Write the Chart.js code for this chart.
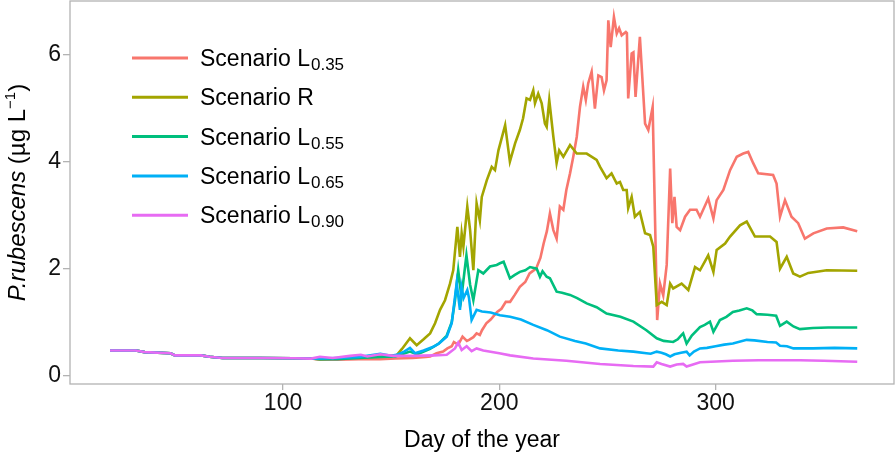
<!DOCTYPE html>
<html>
<head>
<meta charset="utf-8">
<script src="https://cdn.jsdelivr.net/npm/chart.js@4"></script>
<style>
  html, body { margin: 0; padding: 0; background: #fff; }
  #wrap { width: 896px; height: 453px; }
</style>
</head>
<body>
<div id="wrap"><canvas id="myChart" width="896" height="453"></canvas></div>
<script>
// values: [day, P. rubescens]
const scenL035 = [
  [20,0.47],[32,0.47],[36,0.44],[48,0.42],[50,0.38],[62,0.38],[66,0.355],[72,0.33],[90,0.33],[105,0.325],
  [113,0.32],[117,0.30],[125,0.30],[135,0.31],[145,0.31],[152,0.32],[160,0.33],[166,0.35],[168,0.36],
  [171,0.42],[174,0.45],[176,0.51],[178,0.55],[179,0.63],[181,0.58],[183,0.73],[185,0.65],[186,0.67],
  [188,0.72],[189.5,0.79],[191,0.76],[192,0.85],[194,0.98],[196,1.05],[199,1.19],[201,1.25],[203,1.38],
  [205,1.38],[207,1.5],[209.5,1.66],[212,1.75],[214,1.91],[217,2.0],[219,2.2],[220.5,2.47],[222,2.7],
  [223.4,3.03],[225,2.72],[226.5,2.56],[228,3.16],[229.6,3.1],[231,3.47],[232.7,3.78],[234.2,4.09],
  [235.8,4.46],[237.3,5.02],[238.8,5.4],[240,5.15],[241.1,5.46],[242.7,5.68],[244.2,4.99],[245.8,5.61],
  [247.3,5.58],[248.4,5.33],[249.6,5.52],[250.4,6.64],[251.5,6.14],[253,6.7],[254.3,6.39],[255.4,6.49],
  [256.6,6.36],[258.5,6.42],[259,6.4],[259.6,5.18],[261.2,6.02],[262,6.04],[263,5.21],[265,6.33],
  [267.4,4.71],[268.9,4.59],[270.9,5.02],[273,1.04],[274.3,1.72],[275.8,1.5],[277.4,2.07],[279,3.87],
  [280,2.85],[281,3.34],[282,2.78],[283.6,2.72],[285.9,2.97],[288.2,3.1],[291.2,3.1],[292.8,2.97],
  [296.6,3.31],[299,2.94],[300.5,3.28],[303.6,3.47],[306.7,3.84],[309.8,4.09],[312.8,4.15],[315.1,4.18],
  [317.4,3.97],[319.7,3.78],[326.6,3.75],[328.2,3.59],[329.8,2.97],[332.1,3.28],[335.1,2.97],[338.2,2.85],
  [341.3,2.56],[345.2,2.66],[351.4,2.75],[359,2.77],[365.5,2.7]
];
const scenR = [
  [20,0.47],[32,0.47],[36,0.44],[48,0.42],[50,0.38],[62,0.38],[66,0.355],[72,0.33],[90,0.33],[105,0.325],
  [113,0.32],[117,0.31],[125,0.32],[135,0.34],[145,0.36],[152.5,0.38],[155,0.5],[158.7,0.7],[161.8,0.57],
  [165,0.68],[168,0.79],[170.3,0.98],[172.6,1.23],[174.9,1.41],[177.2,1.72],[178.7,1.97],[180.6,2.78],
  [181.8,2.22],[182.6,2.66],[183.4,2.41],[185.2,3.16],[186.5,2.72],[188,1.97],[189.5,3.22],[191,2.9],
  [191.9,3.34],[194.2,3.65],[196.5,3.9],[198,3.84],[199.6,4.21],[202.7,4.68],[204.9,4.0],[207.3,4.34],
  [209.5,4.59],[211,4.81],[212.6,5.18],[214.2,5.15],[215.7,5.33],[216.5,5.09],[218,5.27],[219.6,5.09],
  [221.1,4.71],[221.9,4.65],[223.1,5.15],[225,4.46],[226.5,3.97],[227.7,4.21],[229.6,4.09],[232.7,4.31],
  [235.8,4.15],[240.4,4.15],[245,4.03],[246.6,3.9],[249.6,3.69],[251.9,3.78],[254.3,3.59],[255.8,3.62],
  [257.3,3.47],[258.9,3.47],[259.6,3.13],[261.2,3.34],[262.7,2.97],[265,3.06],[267.4,2.66],[269.7,2.63],
  [271.2,2.41],[272.8,1.32],[275.1,1.38],[277.4,1.32],[279,1.72],[280.4,1.63],[284.3,1.72],[287.4,1.6],
  [290.5,2.03],[292.8,1.97],[296.6,2.25],[299,1.94],[300.5,2.35],[304.4,2.47],[306.7,2.6],[311.3,2.81],
  [314.4,2.88],[318.2,2.6],[325.2,2.6],[328.2,2.5],[329.8,2.0],[332.9,2.22],[335.9,1.91],[339,1.85],
  [342.9,1.92],[351.4,1.97],[365.5,1.96]
];
const scenL055 = [
  [20,0.47],[32,0.47],[36,0.44],[48,0.42],[50,0.38],[62,0.38],[66,0.355],[72,0.33],[90,0.33],[105,0.325],
  [113,0.32],[117,0.31],[125,0.31],[135,0.33],[145,0.35],[152,0.36],[158.7,0.45],[162,0.4],[168,0.5],
  [172,0.6],[175.7,0.75],[178,1.0],[179.5,1.4],[181,1.97],[182.5,1.47],[184.8,2.25],[186.5,1.7],[188,1.41],
  [190.3,1.97],[192.6,1.91],[195.7,2.04],[198.8,2.07],[200.3,2.1],[202,2.13],[204.9,1.82],[207,1.88],
  [209.5,1.94],[212,1.97],[214.2,2.03],[217.3,2.0],[218.8,1.85],[220,1.95],[221.9,1.85],[223.4,1.82],
  [226.5,1.57],[229,1.55],[232.7,1.51],[236,1.45],[240.4,1.35],[245,1.28],[249.6,1.16],[256,1.1],
  [262,1.01],[268,0.85],[272.8,0.7],[276,0.65],[278.5,0.64],[280.4,0.63],[282.5,0.68],[284,0.75],
  [285,0.79],[286.6,0.6],[289,0.75],[292.8,0.91],[295,0.95],[297.4,1.01],[299,0.82],[302,1.04],[305,1.1],
  [308,1.19],[311,1.22],[314.4,1.26],[317,1.22],[319,1.15],[324,1.14],[328,1.12],[329.8,0.93],[332.9,1.01],
  [336,0.92],[339,0.87],[345,0.89],[352,0.9],[365.5,0.9]
];
const scenL065 = [
  [20,0.47],[32,0.47],[36,0.44],[48,0.42],[50,0.38],[62,0.38],[66,0.355],[72,0.33],[90,0.33],[105,0.325],
  [113,0.32],[117,0.32],[125,0.33],[135,0.35],[145,0.41],[150,0.37],[152.5,0.39],[156,0.45],[158.7,0.52],
  [161,0.42],[165,0.47],[169.5,0.54],[172,0.6],[175.7,0.73],[178,0.98],[180.3,1.73],[181.8,1.23],
  [182.5,1.66],[183.5,1.45],[185.2,1.6],[186,1.45],[187.2,1.04],[189.5,1.23],[192,1.2],[196,1.18],
  [200.3,1.13],[205,1.1],[210,1.05],[215.7,0.95],[222,0.85],[228,0.73],[235,0.65],[240,0.6],[246.6,0.51],
  [255,0.47],[262,0.45],[268,0.42],[270,0.41],[272.8,0.45],[275,0.43],[277,0.4],[279,0.36],[281,0.4],
  [284,0.43],[286.6,0.45],[288,0.38],[290,0.45],[292.8,0.51],[296,0.52],[300,0.55],[304,0.58],[308,0.6],
  [314.4,0.67],[318,0.66],[324,0.63],[328,0.62],[329.8,0.56],[333,0.55],[336,0.51],[345,0.51],[355,0.52],
  [365.5,0.51]
];
const scenL090 = [
  [20,0.47],[32,0.47],[36,0.44],[48,0.42],[50,0.38],[62,0.38],[66,0.355],[72,0.33],[90,0.33],[105,0.325],
  [113,0.32],[117,0.355],[123,0.33],[131,0.37],[136,0.39],[139,0.36],[145,0.4],[151,0.37],[160,0.37],
  [170,0.38],[175.7,0.39],[179.5,0.51],[181,0.62],[182.6,0.48],[184.9,0.55],[187.2,0.46],[189.5,0.51],
  [192.6,0.47],[200,0.42],[205,0.38],[215.7,0.32],[231,0.28],[246.6,0.22],[262,0.18],[271.2,0.17],
  [272.8,0.25],[275,0.22],[279,0.17],[282,0.21],[285,0.22],[286.6,0.17],[292.8,0.25],[308,0.28],
  [320,0.29],[339,0.29],[350,0.28],[365.5,0.26]
];

const seriesNames = ["Scenario L", "Scenario R", "Scenario L", "Scenario L", "Scenario L"];
const seriesSubs = ["0.35", "", "0.55", "0.65", "0.90"];
const seriesColors = ["#F8766D", "#A3A500", "#00BF7D", "#00B0F6", "#E76BF3"];
const seriesData = [scenL035, scenR, scenL055, scenL065, scenL090];
const xTicks = [100, 200, 300];
const yTicks = [0, 2, 4, 6];

const FONT = "'Liberation Sans', Arial, sans-serif";
const GRAY = "#b3b3b3";

const datasets = seriesData.map((d, i) => ({
    label: seriesNames[i] + seriesSubs[i],
    data: d.map((p) => ({ x: p[0], y: p[1] })),
    borderColor: seriesColors[i],
    backgroundColor: seriesColors[i],
    borderWidth: 2.6,
    pointRadius: 0,
    tension: 0,
    order: 4 - i, // last scenario on top, like ggplot
}));

const decorPlugin = {
    id: "decor",
    afterDraw(chart) {
        const c = chart.ctx;
        const a = chart.chartArea;
        c.save();
        // panel border
        c.strokeStyle = GRAY;
        c.lineWidth = 1.3;
        c.strokeRect(a.left, a.top, a.right - a.left, a.bottom - a.top);

        // legend
        c.textBaseline = "alphabetic";
        c.textAlign = "left";
        for (let i = 0; i < seriesNames.length; i++) {
            const y = 58 + i * 39.3;
            c.strokeStyle = seriesColors[i];
            c.lineWidth = 3;
            c.beginPath();
            c.moveTo(132, y);
            c.lineTo(188, y);
            c.stroke();
            c.fillStyle = "#000";
            c.font = "23px " + FONT;
            c.fillText(seriesNames[i], 200, y + 8);
            if (seriesSubs[i]) {
                const w = c.measureText(seriesNames[i]).width;
                c.font = "17px " + FONT;
                c.fillText(seriesSubs[i], 200 + w + 1, y + 12);
            }
        }

        // x title
        c.fillStyle = "#000";
        c.font = "23px " + FONT;
        c.textAlign = "center";
        c.fillText("Day of the year", (a.left + a.right) / 2, 447);

        // y title (rotated)
        c.translate(25, (a.top + a.bottom) / 2);
        c.rotate(-Math.PI / 2);
        c.textAlign = "left";
        const parts = [
            { t: "P.rubescens", f: "italic 24px " + FONT, dy: 0 },
            { t: " (µg L", f: "24px " + FONT, dy: 0 },
            { t: "−1", f: "15px " + FONT, dy: -10 },
            { t: ")", f: "24px " + FONT, dy: 0 },
        ];
        let total = 0;
        parts.forEach((p) => { c.font = p.f; p.w = c.measureText(p.t).width; total += p.w; });
        let x = -total / 2;
        parts.forEach((p) => {
            c.font = p.f;
            c.fillText(p.t, x, p.dy);
            x += p.w;
        });
        c.restore();
    },
};

const ctx = document.getElementById("myChart");
new Chart(ctx, {
    type: "line",
    data: { datasets },
    plugins: [decorPlugin],
    options: {
        responsive: false,
        animation: false,
        events: [],
        layout: { padding: { top: 1, right: 2, left: 0, bottom: 0 } },
        plugins: { legend: { display: false }, tooltip: { enabled: false } },
        scales: {
            x: {
                type: "linear",
                min: 1.5,
                max: 382.5,
                afterBuildTicks: (s) => { s.ticks = xTicks.map((v) => ({ value: v })); },
                afterFit: (s) => { s.height = 69; s.paddingLeft = 0; s.paddingRight = 0; },
                grid: { drawOnChartArea: false, drawTicks: true, tickLength: 6, color: GRAY, lineWidth: 1.3 },
                border: { display: false },
                ticks: { color: "#111", font: { family: FONT, size: 23 }, padding: 0, maxRotation: 0 },
            },
            y: {
                type: "linear",
                min: -0.155,
                max: 7.0,
                afterBuildTicks: (s) => { s.ticks = yTicks.map((v) => ({ value: v })); },
                afterFit: (s) => { s.width = 70; s.paddingTop = 0; s.paddingBottom = 0; },
                grid: { drawOnChartArea: false, drawTicks: true, tickLength: 7, color: GRAY, lineWidth: 1.3 },
                border: { display: false },
                ticks: { color: "#111", font: { family: FONT, size: 23 }, padding: 2 },
            },
        },
    },
});
</script>
</body>
</html>
